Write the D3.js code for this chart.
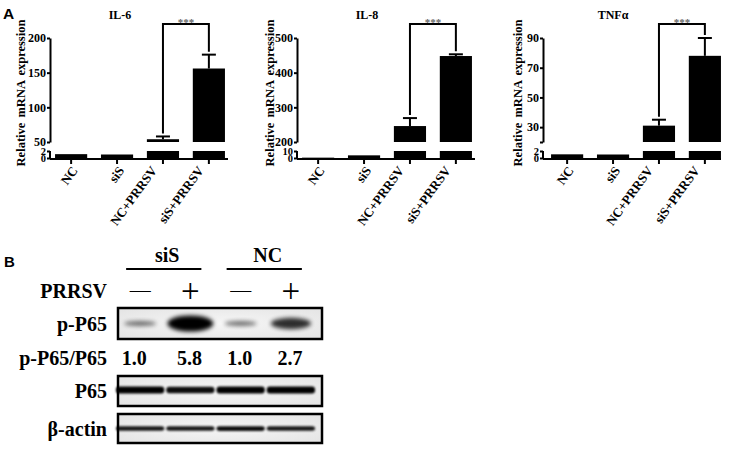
<!DOCTYPE html>
<html>
<head>
<meta charset="utf-8">
<script src="https://cdn.jsdelivr.net/npm/d3@7"></script>
<style>
  body { margin: 0; background: #fff; }
  svg { display: block; }
  text { font-family: "Liberation Serif", "Times New Roman", serif; font-weight: bold; fill: #000; }
</style>
</head>
<body>
<svg id="fig" width="730" height="449"></svg>
<script>
// ---- panel A data (relative mRNA expression, mean and upper SEM) ----
const categories = ['NC', 'siS', 'NC+PRRSV', 'siS+PRRSV']
const il6Mean = [1.1, 1.0, 54, 156]
const il6Err = [0.1, 0.05, 4, 20]
const il8Mean = [0.5, 3.8, 246, 448]
const il8Err = [0.2, 0.4, 23, 5]
const tnfMean = [1.05, 1.0, 31, 78]
const tnfErr = [0.05, 0.05, 4, 12]

const il6LowTicks = [0, 2]
const il6HighTicks = [50, 100, 150, 200]
const il8LowTicks = [0, 10]
const il8HighTicks = [200, 300, 400, 500]
const tnfLowTicks = [0, 2]
const tnfHighTicks = [20, 30, 50, 70, 90]
const tnfHighLabels = ['', '30', '50', '70', '90']

// ---- panel B data (western blot) ----
const lanes = ['siS-', 'siS+', 'NC-', 'NC+']
const groups = ['siS', 'NC']
const prrsvSigns = ['\u2014', '+', '\u2014', '+']
const rowLabels = ['p-P65', 'p-P65/P65', 'P65', '\u03b2-actin']
const ratioLabels = ['1.0', '5.8', '1.0', '2.7']
const pP65Density = [0.3, 1.0, 0.3, 0.7]
const p65Density = [1, 0.95, 1, 1]
const actinDensity = [0.9, 0.9, 0.95, 0.9]

const svg = d3.select('#fig')

const defs = svg.append('defs')
defs.append('filter').attr('id', 'blur').attr('x', '-30%').attr('y', '-80%').attr('width', '160%').attr('height', '260%')
  .append('feGaussianBlur').attr('stdDeviation', 2.2)
defs.append('filter').attr('id', 'blurSmall').attr('x', '-30%').attr('y', '-80%').attr('width', '160%').attr('height', '260%')
  .append('feGaussianBlur').attr('stdDeviation', 1.1)
const grad = defs.append('radialGradient').attr('id', 'membrane').attr('cx', '50%').attr('cy', '50%').attr('r', '70%')
grad.append('stop').attr('offset', '0%').attr('stop-color', '#f6f6f6')
grad.append('stop').attr('offset', '100%').attr('stop-color', '#e4e4e4')

// panel letters
svg.append('text').attr('x', 3).attr('y', 19)
  .style('font-family', '"Liberation Sans", Arial, sans-serif').style('font-size', '15.5px').text('A')
svg.append('text').attr('x', 4).attr('y', 267)
  .style('font-family', '"Liberation Sans", Arial, sans-serif').style('font-size', '15px').text('B')

// ---- panel A: three broken-axis bar charts ----
const panels = [
  { title: 'IL-6', mean: il6Mean, err: il6Err, low: il6LowTicks, high: il6HighTicks, highLabels: null, axisX: 50, bandX: 50, labelOff: 25 },
  { title: 'IL-8', mean: il8Mean, err: il8Err, low: il8LowTicks, high: il8HighTicks, highLabels: null, axisX: 297, bandX: 297, labelOff: 23 },
  { title: 'TNF\u03b1', mean: tnfMean, err: tnfErr, low: tnfLowTicks, high: tnfHighTicks, highLabels: tnfHighLabels, axisX: 543, bandX: 546, labelOff: 21 }
]

const plotTop = 38
const highBottom = 142
const lowTop = 151
const lowBottom = 158
const baseY = 159

panels.forEach(p => {
  const g = svg.append('g')

  const x = d3.scaleBand()
    .domain(categories)
    .range([p.bandX, p.bandX + 180])
    .paddingInner(0.3)
    .paddingOuter(0.11)

  const yLow = d3.scaleLinear().domain(d3.extent(p.low)).range([lowBottom, lowTop])
  const yHigh = d3.scaleLinear().domain(d3.extent(p.high)).range([highBottom, plotTop])
  const lowMax = d3.max(p.low)
  const highMin = d3.min(p.high)
  const yVal = v => (v > highMin ? yHigh(v) : yLow(Math.min(v, lowMax)))

  // bars, lower segment
  g.selectAll('.lowBar').data(p.mean).join('rect')
    .attr('x', (d, i) => x(categories[i]))
    .attr('width', x.bandwidth())
    .attr('y', d => yLow(Math.min(d, lowMax)))
    .attr('height', d => baseY - yLow(Math.min(d, lowMax)))
    .attr('fill', '#000')

  // bars, upper segment
  g.selectAll('.highBar').data(p.mean.map((d, i) => ({ d, i })).filter(o => o.d > highMin)).join('rect')
    .attr('x', o => x(categories[o.i]))
    .attr('width', x.bandwidth())
    .attr('y', o => yHigh(o.d))
    .attr('height', o => yHigh(highMin) - yHigh(o.d))
    .attr('fill', '#000')

  // error bars (upper only)
  const errs = p.mean.map((d, i) => ({ i, y0: yVal(d), y1: yVal(d + p.err[i]), cx: x(categories[i]) + x.bandwidth() / 2 }))
    .filter(o => o.y0 - o.y1 > 1)
  g.selectAll('.errLine').data(errs).join('line')
    .attr('x1', o => o.cx).attr('x2', o => o.cx)
    .attr('y1', o => o.y0).attr('y2', o => o.y1)
    .attr('stroke', '#000').attr('stroke-width', 2)
  g.selectAll('.errCap').data(errs).join('line')
    .attr('x1', o => o.cx - 7).attr('x2', o => o.cx + 7)
    .attr('y1', o => o.y1).attr('y2', o => o.y1)
    .attr('stroke', '#000').attr('stroke-width', 2)

  // y axis, upper segment
  const axHigh = g.append('g').attr('transform', `translate(${p.axisX},0)`)
    .call(d3.axisLeft(yHigh).tickValues(p.high).tickSize(3).tickSizeOuter(0).tickPadding(1)
      .tickFormat((d, i) => (p.highLabels ? p.highLabels[i] : d)))
  // y axis, lower segment
  const axLow = g.append('g').attr('transform', `translate(${p.axisX},0)`)
    .call(d3.axisLeft(yLow).tickValues(p.low).tickSize(3).tickSizeOuter(0).tickPadding(1)
      .tickFormat(d3.format('d')))
  axLow.select('.domain').attr('d', `M0,${lowTop}V${baseY}`)
  ;[axHigh, axLow].forEach(ax => {
    ax.selectAll('path, line').attr('stroke', '#000').attr('stroke-width', 2)
    ax.selectAll('text').style('font-size', '12px').attr('fill', '#000')
  })
  axLow.selectAll('text').style('font-size', '10.5px')

  // x axis
  const axX = g.append('g').attr('transform', `translate(0,${baseY})`)
    .call(d3.axisBottom(x).tickSize(5).tickSizeOuter(0).tickFormat(''))
  axX.select('.domain').attr('d', `M${p.axisX},0H${p.axisX + 178}`)
  axX.selectAll('path, line').attr('stroke', '#000').attr('stroke-width', 2)

  // rotated category labels, placed by their centre
  g.selectAll('.xLabel').data(categories).join('text')
    .attr('text-anchor', 'middle')
    .attr('dy', '0.35em')
    .style('font-size', '13px')
    .text(d => d)
    .attr('transform', function (d) {
      const w = this.getComputedTextLength()
      const cx = x(d) + x.bandwidth() / 2 + 8 - 0.54 * w
      const cy = 168 + 0.4 * w
      return `translate(${cx},${cy}) rotate(-54)`
    })

  // title and y label
  g.append('text').attr('x', p.axisX + 70).attr('y', 19).attr('text-anchor', 'middle')
    .style('font-size', '12px').text(p.title)
  g.append('text')
    .attr('transform', `translate(${p.axisX - p.labelOff},${93}) rotate(-90)`)
    .attr('text-anchor', 'middle')
    .style('font-size', '12.5px').style('word-spacing', '2px')
    .text('Relative mRNA expression')

  // significance bracket
  const c2 = x(categories[2]) + x.bandwidth() / 2
  const c3 = x(categories[3]) + x.bandwidth() / 2
  const yl = yVal(p.mean[2] + p.err[2]) - 3
  const yr = yVal(p.mean[3] + p.err[3]) - 3
  g.append('path')
    .attr('d', `M${c2},${yl}V24H${c3}V${yr}`)
    .attr('fill', 'none').attr('stroke', '#000').attr('stroke-width', 2)
  g.append('text').attr('x', (c2 + c3) / 2).attr('y', 26).attr('text-anchor', 'middle')
    .style('font-size', '11px').style('fill', '#666').text('***')
})

// ---- panel B: western blot ----
const lx = d3.scaleBand().domain(lanes).range([115, 316])
const lc = d => lx(d) + lx.bandwidth() / 2
const boxL = 118
const boxR = 322
const labelX = 107

const blot = svg.append('g').style('font-size', '20px')

// group headers
const groupLanes = groups.map((gname, i) => lanes.slice(i * 2, i * 2 + 2))
blot.selectAll('.grp').data(groups).join('text')
  .attr('x', (d, i) => (lc(groupLanes[i][0]) + lc(groupLanes[i][1])) / 2 + 2)
  .attr('y', 262)
  .attr('text-anchor', 'middle')
  .text(d => d)
blot.selectAll('.grpLine').data(groups).join('line')
  .attr('x1', (d, i) => lc(groupLanes[i][0]) - 14)
  .attr('x2', (d, i) => lc(groupLanes[i][1]) + 11)
  .attr('y1', 269).attr('y2', 269)
  .attr('stroke', '#000').attr('stroke-width', 2)

// PRRSV row
blot.append('text').attr('x', labelX).attr('y', 298).attr('text-anchor', 'end').text('PRRSV')
blot.selectAll('.sign').data(prrsvSigns).join('text')
  .attr('x', (d, i) => lc(lanes[i]))
  .attr('y', d => (d === '+' ? 302 : 297))
  .attr('text-anchor', 'middle')
  .style('font-weight', 'normal')
  .style('font-size', d => (d === '+' ? '33px' : '21px'))
  .text(d => d)

// blot boxes
const boxes = [
  { name: 'p-P65', y0: 308, y1: 339, dens: pP65Density, kind: 'p', bandH: 0 },
  { name: 'P65', y0: 376, y1: 406, dens: p65Density, kind: 'band', bandH: 7 },
  { name: '\u03b2-actin', y0: 414, y1: 443, dens: actinDensity, kind: 'band', bandH: 5 }
]

const rx = d3.scaleLinear().domain([0.3, 1]).range([16, 23])
const ry = d3.scaleLinear().domain([0.3, 1]).range([2.5, 8])
const op = d3.scaleLinear().domain([0.3, 1]).range([0.55, 1])

boxes.forEach(b => {
  const bg = blot.append('g')
  bg.append('rect').attr('x', boxL).attr('y', b.y0).attr('width', boxR - boxL).attr('height', b.y1 - b.y0)
    .attr('fill', 'url(#membrane)')
  const cy = (b.y0 + b.y1) / 2
  if (b.kind === 'p') {
    bg.selectAll('ellipse').data(b.dens).join('ellipse')
      .attr('cx', (d, i) => lc(lanes[i]))
      .attr('cy', cy)
      .attr('rx', d => rx(d))
      .attr('ry', d => ry(d))
      .attr('fill', '#000')
      .attr('opacity', d => op(d))
      .attr('filter', 'url(#blur)')
  } else {
    bg.selectAll('rect.band').data(b.dens).join('rect')
      .attr('class', 'band')
      .attr('x', (d, i) => lx(lanes[i]) + 1)
      .attr('width', lx.bandwidth() - 2)
      .attr('y', d => cy - b.bandH * d / 2 - (b.name === 'P65' ? 1 : 0))
      .attr('height', d => b.bandH * d)
      .attr('rx', 3)
      .attr('fill', '#000')
      .attr('opacity', d => d)
      .attr('filter', 'url(#blurSmall)')
  }
  bg.append('rect').attr('x', boxL).attr('y', b.y0).attr('width', boxR - boxL).attr('height', b.y1 - b.y0)
    .attr('fill', 'none').attr('stroke', '#000').attr('stroke-width', 2.5)
  blot.append('text').attr('x', labelX).attr('y', cy + 7).attr('text-anchor', 'end').text(b.name)
})

// ratio row
blot.append('text').attr('x', labelX).attr('y', 365).attr('text-anchor', 'end').text(rowLabels[1])
blot.selectAll('.ratio').data(ratioLabels).join('text')
  .attr('x', (d, i) => lc(lanes[i]) - (i === 0 ? 6 : 1))
  .attr('y', 365)
  .attr('text-anchor', 'middle')
  .text(d => d)
</script>
</body>
</html>
